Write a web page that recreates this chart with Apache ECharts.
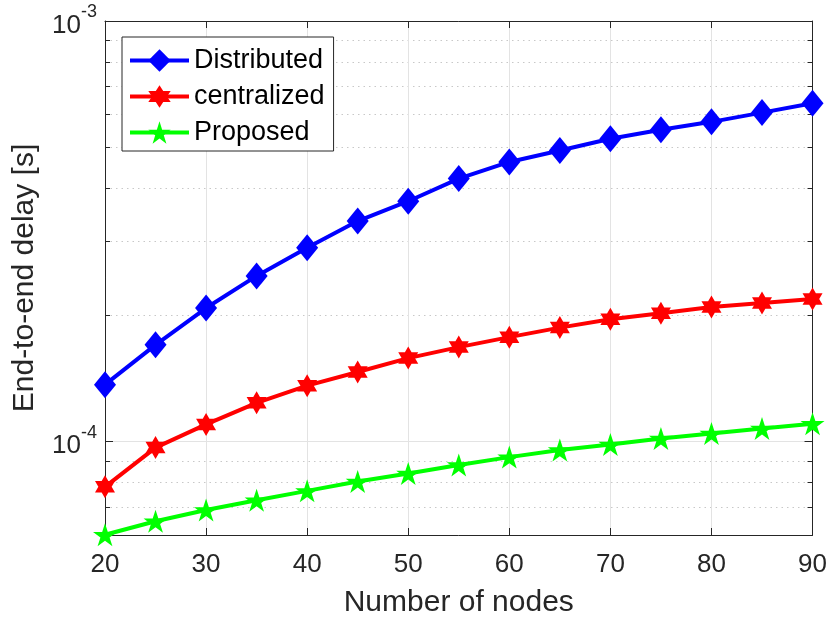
<!DOCTYPE html>
<html>
<head>
<meta charset="utf-8">
<script src="https://cdn.jsdelivr.net/npm/echarts@6/dist/echarts.min.js"></script>
<style>
  html, body { margin: 0; padding: 0; background: #fff; }
  #chart { width: 830px; height: 623px; }
</style>
</head>
<body>
<div id="chart"></div>
<script>
// ---- Data ----
const nodes = [20, 25, 30, 35, 40, 45, 50, 55, 60, 65, 70, 75, 80, 85, 90];
const distributed = [1.366e-4, 1.699e-4, 2.078e-4, 2.478e-4, 2.892e-4, 3.345e-4, 3.729e-4, 4.220e-4, 4.623e-4, 4.924e-4, 5.249e-4, 5.513e-4, 5.758e-4, 6.057e-4, 6.375e-4];
const centralized = [7.81e-5, 9.68e-5, 1.099e-4, 1.237e-4, 1.359e-4, 1.464e-4, 1.580e-4, 1.678e-4, 1.772e-4, 1.867e-4, 1.954e-4, 2.019e-4, 2.090e-4, 2.136e-4, 2.183e-4];
const proposed = [6.01e-5, 6.47e-5, 6.88e-5, 7.26e-5, 7.64e-5, 8.04e-5, 8.40e-5, 8.80e-5, 9.19e-5, 9.55e-5, 9.85e-5, 1.018e-4, 1.046e-4, 1.075e-4, 1.103e-4];
const seriesNames = ['Distributed', 'centralized', 'Proposed'];
const yMajorTicks = [1e-4, 1e-3];
const yMinorTicks = [7e-5, 8e-5, 9e-5, 2e-4, 3e-4, 4e-4, 5e-4, 6e-4, 7e-4, 8e-4, 9e-4];

// ---- Styles ----
const FONT = 'Liberation Sans, Arial, Helvetica, sans-serif';
const AXIS_COLOR = '#262626';
const LINE_W = 4;
const hexagram = 'path://M8.66,0 L11.547,5 L17.32,5 L14.434,10 L17.32,15 L11.547,15 L8.66,20 L5.773,15 L0,15 L2.887,10 L0,5 L5.773,5 Z';
const pentagram = 'path://M9.511,0 L11.756,6.910 L19.022,6.910 L13.144,11.180 L15.389,18.090 L9.511,13.820 L3.633,18.090 L5.878,11.180 L0,6.910 L7.266,6.910 Z';

function pairs(vals) { return nodes.map((x, i) => [x, vals[i]]); }

const yBase = { type: 'log', logBase: 10, min: 6e-5, max: 1e-3, gridIndex: 0 };

const chart = echarts.init(document.getElementById('chart'), null, { renderer: 'canvas' });
chart.setOption({
  animation: false,
  backgroundColor: '#ffffff',
  textStyle: { fontFamily: FONT },
  grid: { left: 105, right: 15, top: 21, bottom: 86, containLabel: false },
  legend: {
    data: seriesNames,
    orient: 'vertical',
    left: 122,
    top: 37,
    padding: [10, 9, 5, 6],
    itemGap: 9,
    itemWidth: 59,
    itemHeight: 28,
    backgroundColor: '#ffffff',
    borderColor: AXIS_COLOR,
    borderWidth: 1,
    borderRadius: 0,
    lineStyle: { width: LINE_W },
    textStyle: { fontSize: 27, color: '#000', fontFamily: FONT }
  },
  xAxis: [
    {
      type: 'value', min: 20, max: 90, interval: 10, position: 'bottom',
      name: 'Number of nodes', nameLocation: 'middle', nameGap: 53,
      nameTextStyle: { fontSize: 30, color: AXIS_COLOR, fontFamily: FONT },
      axisLine: { show: true, onZero: false, lineStyle: { color: AXIS_COLOR, width: 1 } },
      axisTick: { show: true, inside: true, length: 7, lineStyle: { color: AXIS_COLOR } },
      axisLabel: { fontSize: 26, color: AXIS_COLOR, margin: 17, fontFamily: FONT },
      splitLine: { show: true, lineStyle: { color: '#e3e3e3', width: 1 } }
    },
    {
      type: 'value', min: 20, max: 90, interval: 10, position: 'top',
      axisLine: { show: true, onZero: false, lineStyle: { color: AXIS_COLOR, width: 1 } },
      axisTick: { show: true, inside: true, length: 7, lineStyle: { color: AXIS_COLOR } },
      axisLabel: { show: false },
      splitLine: { show: false }
    }
  ],
  yAxis: [
    Object.assign({}, yBase, {
      position: 'left',
      name: 'End-to-end delay [s]', nameLocation: 'middle', nameGap: 65,
      nameTextStyle: { fontSize: 30, color: AXIS_COLOR, fontFamily: FONT },
      axisLine: { show: true, onZero: false, lineStyle: { color: AXIS_COLOR, width: 1 } },
      axisTick: { show: true, inside: true, length: 8, customValues: yMajorTicks, lineStyle: { color: AXIS_COLOR } },
      axisLabel: {
        customValues: yMajorTicks,
        margin: 8,
        color: AXIS_COLOR,
        formatter: function (v) {
          const e = Math.round(Math.log10(v));
          return '{b|10}{sup|' + e + '}';
        },
        rich: {
          b: { fontSize: 26, color: AXIS_COLOR, fontFamily: FONT, verticalAlign: 'bottom' },
          sup: { fontSize: 18, color: AXIS_COLOR, fontFamily: FONT, verticalAlign: 'bottom', padding: [0, 0, 17, 0] }
        }
      },
      splitLine: { show: true, lineStyle: { color: '#e3e3e3', width: 1 } }
    }),
    Object.assign({}, yBase, {
      position: 'left',
      axisLine: { show: false },
      axisTick: { show: true, inside: true, length: 5, customValues: yMinorTicks, lineStyle: { color: AXIS_COLOR } },
      axisLabel: { show: false },
      splitLine: { show: true, lineStyle: { color: '#c8c8c8', width: 1, type: [1.5, 4] } }
    }),
    Object.assign({}, yBase, {
      position: 'right',
      axisLine: { show: true, onZero: false, lineStyle: { color: AXIS_COLOR, width: 1 } },
      axisTick: { show: true, inside: true, length: 8, customValues: yMajorTicks, lineStyle: { color: AXIS_COLOR } },
      axisLabel: { show: false },
      splitLine: { show: false }
    }),
    Object.assign({}, yBase, {
      position: 'right',
      axisLine: { show: false },
      axisTick: { show: true, inside: true, length: 5, customValues: yMinorTicks, lineStyle: { color: AXIS_COLOR } },
      axisLabel: { show: false },
      splitLine: { show: false }
    })
  ],
  series: [
    {
      name: seriesNames[0], type: 'line', xAxisIndex: 0, yAxisIndex: 0,
      data: pairs(distributed), clip: false,
      symbol: 'diamond', symbolSize: [22, 27],
      lineStyle: { color: '#0000ff', width: LINE_W },
      itemStyle: { color: '#0000ff' }
    },
    {
      name: seriesNames[1], type: 'line', xAxisIndex: 0, yAxisIndex: 0,
      data: pairs(centralized), clip: false,
      symbol: hexagram, symbolSize: [20, 23],
      lineStyle: { color: '#ff0000', width: LINE_W },
      itemStyle: { color: '#ff0000' }
    },
    {
      name: seriesNames[2], type: 'line', xAxisIndex: 0, yAxisIndex: 0,
      data: pairs(proposed), clip: false,
      symbol: pentagram, symbolSize: [24, 23],
      lineStyle: { color: '#00ff00', width: LINE_W },
      itemStyle: { color: '#00ff00' }
    }
  ]
});
</script>
</body>
</html>
